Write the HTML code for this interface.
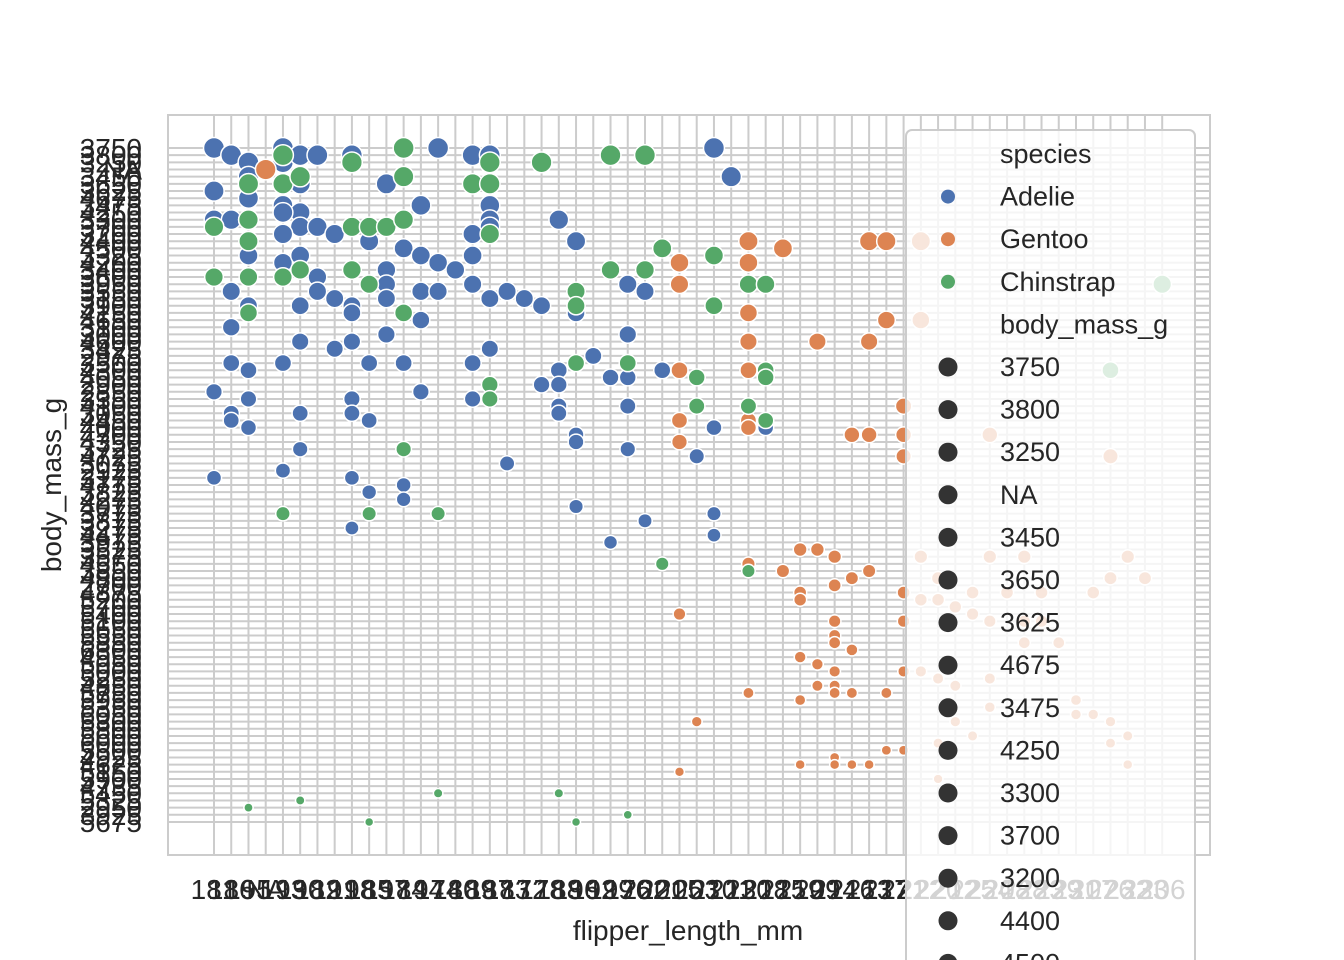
<!DOCTYPE html>
<html><head><meta charset="utf-8"><style>
html,body{margin:0;padding:0;background:#fff;}
svg{display:block;font-family:"Liberation Sans",Arial,sans-serif;}
</style></head><body>
<svg id="chart" width="1344" height="960" viewBox="0 0 1344 960" xmlns="http://www.w3.org/2000/svg">
<g id="grid"></g>
<g id="xticks"></g>
<g id="yticks"></g>
<g id="points"></g>
<rect x="168" y="115" width="1042" height="740" fill="none" stroke="#cccccc" stroke-width="2"/>
<text x="688" y="940" font-size="28" text-anchor="middle" fill="#262626">flipper_length_mm</text>
<text x="61" y="485" font-size="28" text-anchor="middle" fill="#262626" transform="rotate(-90 61 485)">body_mass_g</text>
<g id="legend"></g>
</svg>
<script>
const xCats = ["181","186","195","NA","193","190","182","191","198","185","197","184","194","174","180","189","187","183","172","178","188","196","192","199","176","202","201","205","203","210","211","230","218","215","219","209","214","216","213","217","221","222","220","212","225","224","208","228","223","229","231","207","226","232","233","206"];
const yCats = ["3750","3800","3250","NA","3450","3650","3625","4675","3475","4250","3300","3700","3200","4400","4500","3325","4200","3400","3600","3950","3550","3150","3900","4150","4650","3100","3000","4600","3425","2975","3500","4300","4050","2900","2850","3350","4100","3050","4450","4000","4700","4350","3725","4725","3075","2925","3175","4775","3825","4275","4075","3775","3875","3275","4475","3975","3525","3575","4550","3850","4800","2700","4875","5200","5700","5400","5100","5650","5550","5850","6300","4950","5050","5000","5250","4850","5750","5950","5350","6050","5300","5800","5600","6000","5500","4925","4625","5150","5900","4735","5450","5325","2950","3925","5675"];
const adelieX = [0,1,2,2,4,4,5,6,8,13,15,16,29,30,0,2,5,10,2,4,5,12,16,0,1,2,4,5,6,7,9,16,16,20,4,15,2,11,12,13,14,15,21,4,5,6,10,10,1,6,7,8,8,10,12,13,15,16,17,18,19,21,24,25,2,5,12,1,10,24,5,7,8,16,22,1,2,4,9,11,15,20,23,24,26,19,20,0,2,8,12,15,1,1,2,5,8,9,20,20,24,21,21,29,32,5,24,28,0,4,8,9,11,11,17,21,25,29,29,8,23];
const adelieY = [0,1,2,4,0,2,1,1,1,0,1,1,0,4,6,5,5,5,7,8,9,8,8,10,10,10,9,11,11,12,13,10,11,10,12,12,15,14,15,16,17,15,13,16,15,18,17,19,20,20,21,22,23,21,20,20,19,21,20,21,22,23,19,20,22,22,24,25,26,26,27,28,27,28,29,30,31,30,30,30,30,31,32,32,31,33,33,34,35,35,34,35,37,38,39,37,37,38,36,37,36,40,41,39,39,42,42,43,46,45,46,48,47,49,44,50,52,51,54,53,55];
const gentooX = [3,31,33,38,39,27,31,27,39,31,31,35,38,27,31,40,27,27,31,31,37,38,40,40,34,35,36,31,33,37,38,36,34,34,40,27,36,36,36,37,40,34,35,36,40,36,35,36,37,39,31,34,28,36,36,37,38,34,39,40,27,41,41,45,52,41,45,47,53,52,54,42,41,42,43,44,46,48,51,44,45,47,48,49,47,42,43,45,45,50,50,51,52,52,53,43,53,42,42,44,41];
const gentooY = [3,13,14,13,13,16,16,19,24,23,27,27,27,31,31,36,38,41,38,39,40,40,40,43,56,56,57,58,59,60,59,61,62,63,62,65,66,68,69,70,66,71,72,73,73,75,75,76,76,76,76,77,80,85,86,86,86,86,84,84,87,13,24,40,43,57,57,57,57,60,60,60,63,63,64,62,62,62,62,65,66,66,66,69,69,74,75,74,78,77,79,79,80,83,82,80,86,88,83,82,73];
const chinX = [11,4,8,19,23,25,16,2,4,5,11,15,16,0,2,8,9,10,11,16,2,26,29,0,2,4,5,8,9,23,25,31,32,21,21,2,11,29,21,24,28,32,32,16,16,28,31,32,11,4,9,13,26,31,2,5,13,20,9,21,24,55,52];
const chinY = [0,1,2,2,1,1,2,5,5,4,4,5,5,11,10,11,11,11,10,12,13,14,15,18,18,18,17,17,19,17,17,19,19,20,22,23,23,22,30,30,32,31,32,33,35,36,36,38,42,51,51,51,58,59,92,91,90,90,94,94,93,19,31];
const speciesNames = ["Adelie","Gentoo","Chinstrap"];
const sizeLegend = ["3750","3800","3250","NA","3450","3650","3625","4675","3475","4250","3300","3700","3200","4400","4500"];

const NS="http://www.w3.org/2000/svg";
const X0=214, XS=17.24, Y0=148, YS=7.17;
const xScale = i => X0 + i*XS;
const yScale = i => Y0 + i*YS;
const rScale = i => 10.5 - 6*i/94;
function mk(tag, attrs, parent){const e=document.createElementNS(NS,tag);for(const k in attrs)e.setAttribute(k,attrs[k]);parent.appendChild(e);return e;}

const grid=document.getElementById('grid');
for(let i=0;i<xCats.length;i++){
  const l=mk('line',{x1:xScale(i),x2:xScale(i),y1:115,y2:855,stroke:'#cccccc','stroke-width':2},grid);
  
  
}
for(let i=0;i<yCats.length;i++){
  const l=mk('line',{x1:168,x2:1210,y1:yScale(i),y2:yScale(i),stroke:'#cccccc','stroke-width':2},grid);
  
  
}
const xt=document.getElementById('xticks');
xCats.forEach((c,i)=>{
  const t=mk('text',{x:xScale(i),y:899,'font-size':28,'text-anchor':'middle',fill:'#262626'},xt);
  t.textContent=c;
  
  
});
const yt=document.getElementById('yticks');
yCats.forEach((c,i)=>{
  const t=mk('text',{x:142,y:yScale(i)+10,'font-size':28,'text-anchor':'end',fill:'#262626'},yt);
  t.textContent=c;
  
  
});
const pts=document.getElementById('points');
function drawSeries(xs,ys,color,name){
  for(let k=0;k<xs.length;k++){
    const c=mk('circle',{cx:xScale(xs[k]),cy:yScale(ys[k]),r:rScale(ys[k]),fill:color,stroke:'#ffffff','stroke-width':1.5},pts);
    
    
  }
}
drawSeries(adelieX,adelieY,'#4c72b0','point-adelie');
drawSeries(gentooX,gentooY,'#dd8452','point-gentoo');
drawSeries(chinX,chinY,'#55a868','point-chinstrap');

const lg=document.getElementById('legend');
const box=mk('rect',{x:906,y:130,width:289,height:860,rx:6,fill:'#ffffff','fill-opacity':0.8,stroke:'#cccccc','stroke-width':2},lg);


const rowH=42.6, row0=154;
let row=0;
function lgText(str,y,name){
  const t=mk('text',{x:1000,y:y+9,'font-size':27,fill:'#262626'},lg);
  t.textContent=str;
  
  
}
lgText('species',row0,'legend-title-species'); row++;
const cols=['#4c72b0','#dd8452','#55a868'];
speciesNames.forEach((s,i)=>{
  const y=row0+row*rowH;
  const c=mk('circle',{cx:948,cy:y,r:7,fill:cols[i]},lg);
  
  
  lgText(s,y,'legend-entry'); row++;
});
lgText('body_mass_g',row0+row*rowH,'legend-title-body-mass'); row++;
sizeLegend.forEach(s=>{
  const y=row0+row*rowH;
  const c=mk('circle',{cx:948,cy:y,r:9.5,fill:'#333333'},lg);
  
  
  lgText(s,y,'legend-entry'); row++;
});
</script>
</body></html>
